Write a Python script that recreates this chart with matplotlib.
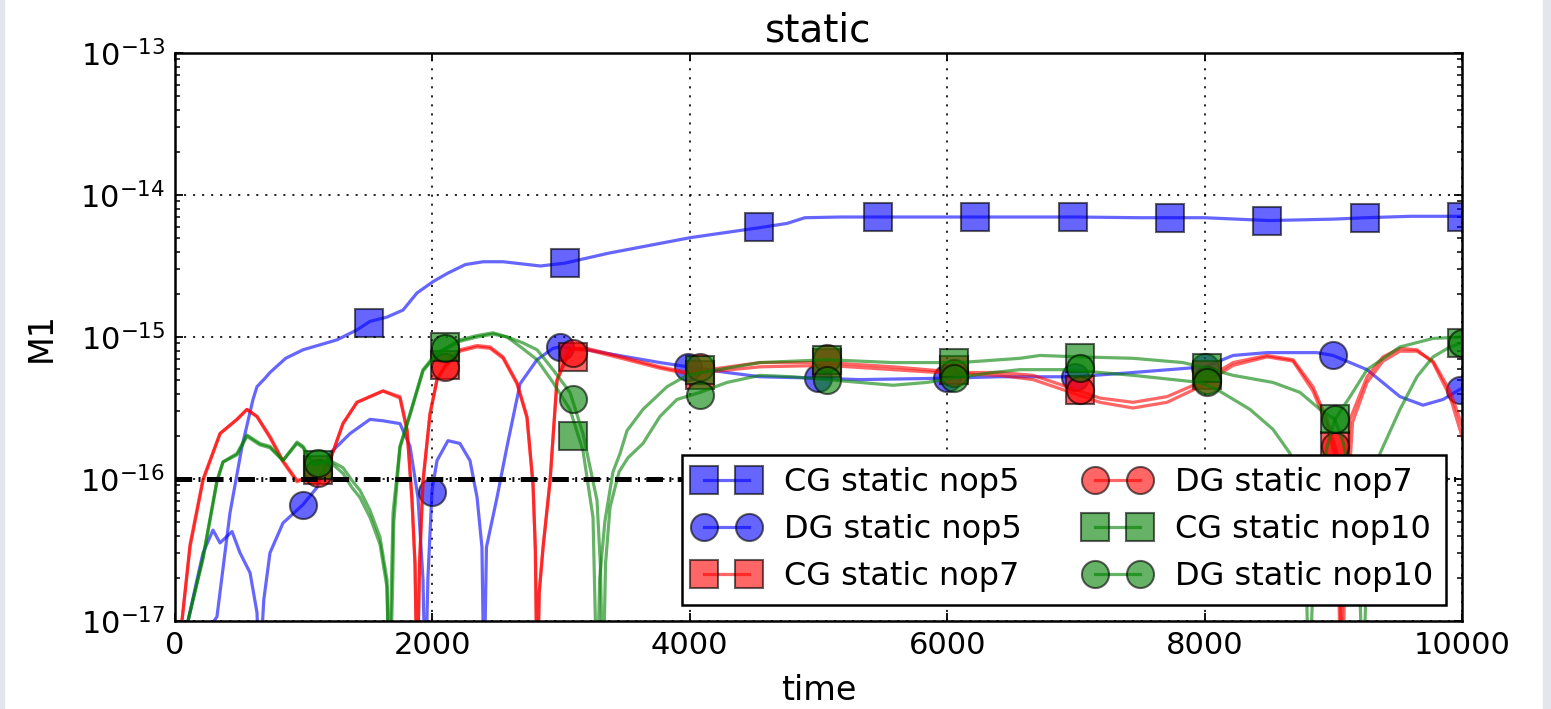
import numpy as np
import matplotlib
matplotlib.use('Agg')
import matplotlib.pyplot as plt
from matplotlib.lines import Line2D
from matplotlib.patches import Rectangle
from matplotlib.ticker import NullFormatter

# values are log10(M1)

# CG static nop5 (blue, squares)
cg5_t = [250, 303, 326, 427, 521, 606, 637, 700, 738, 860, 995, 1259, 1414, 1515, 1647, 1772,
         1880, 2005, 2120, 2256, 2394, 2549, 2839, 3028, 3367, 4006, 4542, 4756, 4894, 5172,
         5639, 6500, 7000, 7500, 8000, 8500, 9000, 9250, 9600, 10000]
cg5_log = [-17.5, -17.0, -16.97, -16.24, -15.77, -15.44, -15.35, -15.29, -15.25, -15.15, -15.09,
           -15.02, -14.95, -14.89, -14.86, -14.81, -14.69, -14.61, -14.55, -14.49, -14.47, -14.47,
           -14.50, -14.48, -14.41, -14.30, -14.23, -14.20, -14.16, -14.155, -14.155, -14.155,
           -14.155, -14.16, -14.16, -14.18, -14.17, -14.16, -14.15, -14.15]
cg5_mt = [1510, 3030, 4540, 5460, 6215, 6975, 7730, 8485, 9245, 10000]
cg5_mlog = [-14.90, -14.48, -14.225, -14.155, -14.155, -14.155, -14.16, -14.18, -14.16, -14.155]

# DG static nop5 (blue, circles)
dg5_t = [60, 101, 171, 218, 295, 350, 443, 505, 583, 637, 655, 690, 738, 839, 995, 1103, 1204,
         1360, 1515, 1616, 1748, 1826, 1888, 1927, 1945, 1965, 1997, 2036, 2121, 2214, 2292,
         2347, 2385, 2401, 2420, 2502, 2580, 2681, 2813, 2937, 2991, 3201, 3512, 3768, 3986,
         4289, 4545, 4996, 5322, 5998, 6410, 6993, 7444, 8003, 8221, 8485, 8873, 8998, 9262,
         9518, 9697, 9852, 10000]
dg5_log = [-17.5, -17.0, -16.71, -16.52, -16.36, -16.45, -16.37, -16.52, -16.66, -16.94, -17.4,
           -16.85, -16.52, -16.31, -16.18, -16.06, -15.82, -15.68, -15.58, -15.59, -15.61, -15.77,
           -16.13, -16.71, -17.5, -16.7, -16.08, -15.87, -15.73, -15.75, -15.87, -16.13, -16.48,
           -17.5, -16.48, -16.13, -15.77, -15.33, -15.16, -15.08, -15.07, -15.09, -15.14, -15.18,
           -15.21, -15.25, -15.28, -15.29, -15.30, -15.29, -15.28, -15.28, -15.25, -15.21, -15.13,
           -15.11, -15.11, -15.13, -15.23, -15.42, -15.48, -15.44, -15.36]
dg5_mt = [995, 1997, 2991, 3986, 4996, 5998, 6993, 8003, 8998, 9984]
dg5_mlog = [-16.18, -16.09, -15.07, -15.21, -15.29, -15.29, -15.28, -15.21, -15.13, -15.37]

# CG static nop7 (red, squares)
cg7_t = [30, 54, 117, 218, 350, 482, 559, 637, 738, 839, 948, 1026, 1103, 1204, 1305, 1414,
         1515, 1616, 1748, 1803, 1841, 1865, 1880, 1900, 1927, 1981, 2036, 2098, 2214, 2347,
         2448, 2549, 2657, 2735, 2782, 2800, 2813, 2830, 2860, 2914, 2968, 3069, 3201, 3512,
         3768, 3986, 4545, 5066, 5579, 6100, 6410, 6667, 6930, 7187, 7444, 7708, 7964, 8221,
         8485, 8687, 8842, 8951, 9029, 9055, 9080, 9130, 9262, 9386, 9518, 9650, 9775, 9907,
         10000]
cg7_log = [-17.5, -17.0, -16.48, -16.01, -15.68, -15.58, -15.51, -15.56, -15.70, -15.87, -16.01,
           -15.99, -16.01, -15.87, -15.61, -15.46, -15.42, -15.38, -15.42, -15.65, -16.13, -16.6,
           -17.5, -16.6, -16.01, -15.54, -15.30, -15.20, -15.09, -15.06, -15.07, -15.14, -15.32,
           -15.56, -16.03, -16.5, -17.5, -16.8, -16.48, -16.01, -15.30, -15.08, -15.08, -15.15,
           -15.21, -15.25, -15.18, -15.18, -15.21, -15.25, -15.25, -15.27, -15.35, -15.43, -15.46,
           -15.42, -15.32, -15.18, -15.13, -15.16, -15.35, -15.58, -15.82, -17.5, -16.3, -15.58,
           -15.28, -15.14, -15.08, -15.09, -15.18, -15.42, -15.70]
cg7_mt = [1110, 2100, 3090, 4080, 5065, 6050, 7035, 8020, 9010]
cg7_mlog = [-15.94, -15.20, -15.14, -15.27, -15.18, -15.23, -15.37, -15.27, -15.77]

# DG static nop7 (red, circles)
dg7_t = [30, 54, 117, 218, 350, 482, 559, 637, 738, 839, 948, 1026, 1103, 1204, 1305, 1414,
         1515, 1616, 1748, 1803, 1841, 1865, 1882, 1900, 1927, 1981, 2036, 2098, 2214, 2347,
         2448, 2549, 2657, 2735, 2782, 2800, 2815, 2830, 2860, 2914, 2968, 3069, 3201, 3512,
         3768, 3986, 4545, 5066, 5579, 6100, 6410, 6667, 6930, 7187, 7444, 7708, 7964, 8221,
         8485, 8687, 8842, 8951, 9029, 9070, 9100, 9150, 9262, 9386, 9518, 9650, 9775, 9907,
         10000]
dg7_log = [-17.5, -17.0, -16.46, -16.00, -15.68, -15.58, -15.51, -15.56, -15.71, -15.88, -16.02,
           -15.99, -16.02, -15.87, -15.61, -15.46, -15.42, -15.38, -15.43, -15.66, -16.15, -16.6,
           -17.5, -16.6, -16.02, -15.55, -15.30, -15.21, -15.10, -15.07, -15.08, -15.15, -15.33,
           -15.57, -16.05, -16.5, -17.5, -16.8, -16.48, -16.02, -15.31, -15.09, -15.09, -15.16,
           -15.22, -15.26, -15.21, -15.20, -15.23, -15.26, -15.27, -15.30, -15.38, -15.46, -15.50,
           -15.46, -15.35, -15.20, -15.14, -15.17, -15.38, -15.62, -15.90, -17.5, -16.3, -15.60,
           -15.32, -15.17, -15.10, -15.10, -15.17, -15.38, -15.62]
dg7_mt = [1110, 2100, 3090, 4080, 5065, 6050, 7035, 8020, 9010]
dg7_mlog = [-15.96, -15.21, -15.11, -15.21, -15.15, -15.25, -15.37, -15.30, -15.77]

# CG static nop10 (green, squares)
cg10_t = [60, 101, 218, 326, 373, 482, 559, 660, 738, 839, 948, 995, 1072, 1204, 1305, 1375,
          1437, 1515, 1593, 1647, 1662, 1680, 1694, 1748, 1826, 1904, 1927, 2036, 2098, 2214,
          2347, 2471, 2580, 2700, 2813, 2937, 3069, 3170, 3248, 3279, 3300, 3340, 3403, 3458,
          3512, 3636, 3823, 3978, 4157, 4545, 5066, 5579, 6100, 6566, 6721, 7032, 7444, 7832,
          8019, 8221, 8531, 8741, 8897, 9013, 9080, 9150, 9200, 9230, 9260, 9300, 9363, 9518,
          9650, 9775, 9907, 10000]
cg10_log = [-17.5, -17.0, -16.55, -16.01, -15.88, -15.82, -15.69, -15.75, -15.77, -15.87, -15.74,
            -15.77, -15.89, -15.87, -15.92, -16.01, -16.08, -16.22, -16.41, -16.71, -17.5, -16.8,
            -16.24, -15.77, -15.54, -15.30, -15.23, -15.11, -15.08, -15.02, -14.99, -14.97, -15.00,
            -15.08, -15.16, -15.32, -15.51, -15.80, -16.27, -17.5, -16.7, -16.3, -15.95, -15.82,
            -15.66, -15.51, -15.35, -15.27, -15.24, -15.18, -15.16, -15.18, -15.18, -15.15, -15.13,
            -15.14, -15.15, -15.18, -15.22, -15.27, -15.32, -15.39, -15.51, -15.58, -15.75, -16.1,
            -16.6, -17.5, -16.6, -16.2, -15.82, -15.51, -15.28, -15.14, -15.07, -15.04]
cg10_mt = [1110, 2100, 3090, 4080, 5065, 6050, 7035, 8020, 9010, 10000]
cg10_mlog = [-15.90, -15.07, -15.70, -15.23, -15.16, -15.18, -15.15, -15.22, -15.58, -15.04]

# DG static nop10 (green, circles)
dg10_t = [60, 101, 218, 326, 373, 482, 559, 660, 738, 839, 948, 995, 1072, 1204, 1305, 1375,
          1437, 1515, 1593, 1647, 1668, 1690, 1700, 1748, 1826, 1904, 1927, 2036, 2098, 2214,
          2347, 2471, 2580, 2700, 2813, 2937, 3069, 3170, 3279, 3305, 3326, 3345, 3380, 3450,
          3520, 3636, 3768, 3900, 4079, 4289, 4545, 4802, 5066, 5322, 5579, 5843, 6045, 6356,
          6566, 6930, 7444, 7964, 8096, 8353, 8531, 8664, 8740, 8790, 8810, 8840, 8900, 8950,
          9013, 9130, 9262, 9518, 9775, 10000]
dg10_log = [-17.5, -17.0, -16.56, -16.02, -15.88, -15.83, -15.70, -15.76, -15.78, -15.87, -15.75,
            -15.78, -15.90, -15.88, -15.96, -16.06, -16.13, -16.27, -16.46, -16.76, -17.5, -16.8,
            -16.3, -15.78, -15.55, -15.31, -15.24, -15.12, -15.09, -15.03, -15.00, -14.98, -15.00,
            -15.04, -15.09, -15.23, -15.39, -15.68, -16.15, -16.6, -17.5, -16.6, -16.2, -15.95,
            -15.85, -15.75, -15.56, -15.44, -15.39, -15.32, -15.27, -15.28, -15.30, -15.32, -15.34,
            -15.32, -15.29, -15.25, -15.23, -15.23, -15.27, -15.32, -15.37, -15.51, -15.65, -15.82,
            -16.2, -16.7, -17.5, -16.8, -16.1, -15.78, -15.58, -15.42, -15.23, -15.07, -15.01,
            -15.00]
dg10_mt = [1110, 2100, 3090, 4080, 5065, 6050, 7035, 8020, 9010, 10000]
dg10_mlog = [-15.89, -15.08, -15.44, -15.41, -15.30, -15.29, -15.22, -15.32, -15.58, -15.04]

labels = ['CG static nop5', 'DG static nop5', 'CG static nop7',
          'DG static nop7', 'CG static nop10', 'DG static nop10']
x_ticks = [0, 2000, 4000, 6000, 8000, 10000]
y_ticks = [1e-17, 1e-16, 1e-15, 1e-14, 1e-13]

plt.rcParams['axes.unicode_minus'] = False
plt.rcParams['lines.scale_dashes'] = False
plt.rcParams['xtick.direction'] = 'in'
plt.rcParams['ytick.direction'] = 'in'
plt.rcParams['xtick.top'] = True
plt.rcParams['ytick.right'] = True
plt.rcParams['xtick.major.size'] = 6
plt.rcParams['ytick.major.size'] = 6
plt.rcParams['ytick.minor.size'] = 3.5
plt.rcParams['xtick.major.width'] = 1.3
plt.rcParams['ytick.major.width'] = 1.3
plt.rcParams['ytick.minor.width'] = 1.1

fig = plt.figure(figsize=(15.51, 7.09), dpi=100)
ax = fig.add_axes([175 / 1551, 88 / 709, 1287 / 1551, 568 / 709])

# light grey strips at the edges of the screenshot
fig.patches.append(Rectangle((0, 0), 4 / 1551, 1, transform=fig.transFigure,
                             color='#e3e7ec', zorder=-5))
fig.patches.append(Rectangle((1543 / 1551, 0), 8 / 1551, 1, transform=fig.transFigure,
                             color='#e3e7ec', zorder=-5))

series = [
    (cg5_t, cg5_log, cg5_mt, cg5_mlog, 'b', 's'),
    (dg5_t, dg5_log, dg5_mt, dg5_mlog, 'b', 'o'),
    (cg7_t, cg7_log, cg7_mt, cg7_mlog, 'r', 's'),
    (dg7_t, dg7_log, dg7_mt, dg7_mlog, 'r', 'o'),
    (cg10_t, cg10_log, cg10_mt, cg10_mlog, 'g', 's'),
    (dg10_t, dg10_log, dg10_mt, dg10_mlog, 'g', 'o'),
]

handles = []
for t, lg, mt, mlg, col, mk in series:
    ax.plot(t, 10.0 ** np.array(lg), color=col, alpha=0.6, lw=2.3)
    ax.plot(mt, 10.0 ** np.array(mlg), ls='none', marker=mk, ms=19.5, color=col,
            mec='k', mew=1.5, alpha=0.6)
    handles.append(Line2D([], [], color=col, lw=2.3, marker=mk, ms=19.5, mec='k',
                          mew=1.5, alpha=0.6))

ax.axhline(1e-16, color='k', lw=3.6, ls=(0, (12, 4.6, 1.4, 4.6)), zorder=3)

ax.set_yscale('log')
ax.set_xlim(0, 10000)
ax.set_ylim(1e-17, 1e-13)
ax.set_xticks(x_ticks)
ax.set_yticks(y_ticks)
ax.yaxis.set_minor_formatter(NullFormatter())
ax.grid(True, which='major', color='k', lw=1.2, ls=(0, (1.5, 5)))
for s in ax.spines.values():
    s.set_linewidth(1.8)
ax.tick_params(labelsize=22, pad=7)

ax.set_title('static', fontsize=28, pad=8)
ax.set_xlabel('time', fontsize=24, labelpad=10)
ax.set_ylabel('M1', fontsize=24, labelpad=16)

leg = ax.legend(handles, labels, loc='lower right', ncol=2, numpoints=2,
                fontsize=23, fancybox=False, framealpha=1, edgecolor='k',
                labelspacing=0.5, columnspacing=2.0, borderaxespad=0.5)
leg.get_frame().set_linewidth(1.8)

fig.savefig('out.png', dpi=100, facecolor='white')
